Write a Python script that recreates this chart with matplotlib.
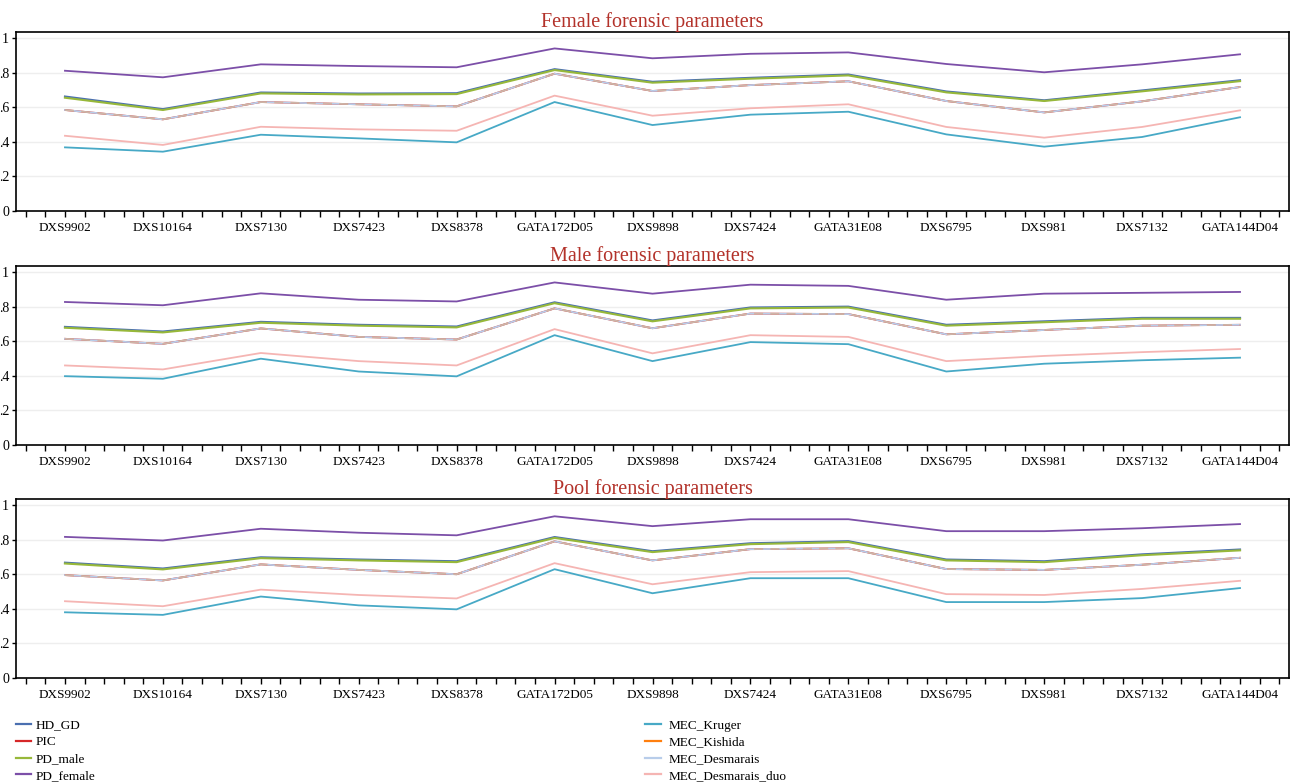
import matplotlib
matplotlib.use('Agg')
import matplotlib.pyplot as plt
import numpy as np

plt.rcParams['font.family'] = ['Liberation Serif', 'DejaVu Serif']

# 基因座名称
loci = ['DXS9902', 'DXS10164', 'DXS7130', 'DXS7423', 'DXS8378', 'GATA172D05',
        'DXS9898', 'DXS7424', 'GATA31E08', 'DXS6795', 'DXS981', 'DXS7132',
        'GATA144D04']

# 女性参数
female_hd_gd = [0.662, 0.589, 0.685, 0.679, 0.681, 0.820, 0.747, 0.770, 0.789, 0.691, 0.640, 0.697, 0.756]
female_pd_male = [0.655, 0.584, 0.680, 0.674, 0.676, 0.815, 0.742, 0.765, 0.784, 0.686, 0.636, 0.692, 0.751]
female_pd_female = [0.811, 0.773, 0.848, 0.838, 0.831, 0.940, 0.883, 0.909, 0.917, 0.850, 0.802, 0.848, 0.906]
female_pic = [0.584, 0.530, 0.630, 0.617, 0.605, 0.794, 0.694, 0.728, 0.750, 0.636, 0.570, 0.634, 0.717]
female_kruger = [0.368, 0.343, 0.441, 0.420, 0.397, 0.630, 0.497, 0.557, 0.574, 0.443, 0.372, 0.428, 0.542]
female_duo = [0.435, 0.382, 0.487, 0.472, 0.464, 0.667, 0.551, 0.594, 0.617, 0.486, 0.424, 0.486, 0.582]

# 男性参数
male_hd_gd = [0.683, 0.656, 0.712, 0.695, 0.685, 0.825, 0.720, 0.795, 0.800, 0.695, 0.715, 0.735, 0.735]
male_pd_male = [0.678, 0.651, 0.707, 0.690, 0.680, 0.820, 0.715, 0.790, 0.795, 0.690, 0.710, 0.730, 0.730]
male_pd_female = [0.827, 0.808, 0.877, 0.840, 0.830, 0.940, 0.875, 0.927, 0.920, 0.840, 0.875, 0.880, 0.885]
male_pic = [0.614, 0.585, 0.674, 0.625, 0.610, 0.790, 0.675, 0.760, 0.757, 0.640, 0.665, 0.690, 0.695]
male_kruger = [0.398, 0.383, 0.499, 0.425, 0.397, 0.635, 0.485, 0.595, 0.583, 0.425, 0.470, 0.490, 0.505]
male_duo = [0.460, 0.437, 0.532, 0.485, 0.460, 0.670, 0.530, 0.635, 0.625, 0.485, 0.515, 0.537, 0.555]

# 混合参数
pool_hd_gd = [0.667, 0.633, 0.698, 0.685, 0.675, 0.815, 0.733, 0.779, 0.791, 0.685, 0.675, 0.715, 0.743]
pool_pd_male = [0.662, 0.628, 0.693, 0.680, 0.670, 0.810, 0.728, 0.774, 0.786, 0.680, 0.670, 0.710, 0.738]
pool_pd_female = [0.816, 0.795, 0.863, 0.840, 0.825, 0.935, 0.878, 0.918, 0.918, 0.849, 0.849, 0.866, 0.890]
pool_pic = [0.595, 0.564, 0.657, 0.625, 0.600, 0.790, 0.680, 0.745, 0.750, 0.630, 0.625, 0.655, 0.695]
pool_kruger = [0.380, 0.365, 0.471, 0.420, 0.397, 0.629, 0.490, 0.577, 0.577, 0.439, 0.439, 0.462, 0.520]
pool_duo = [0.444, 0.415, 0.511, 0.480, 0.460, 0.664, 0.542, 0.612, 0.618, 0.485, 0.480, 0.515, 0.562]

panels = [
    ('Female forensic parameters', female_hd_gd, female_pd_male, female_pd_female, female_pic, female_kruger, female_duo),
    ('Male forensic parameters', male_hd_gd, male_pd_male, male_pd_female, male_pic, male_kruger, male_duo),
    ('Pool forensic parameters', pool_hd_gd, pool_pd_male, pool_pd_female, pool_pic, pool_kruger, pool_duo),
]

c_hd = '#4a6fb0'
c_pic = '#d62728'
c_pdm = '#97b83a'
c_pdf = '#7c4fa8'
c_kru = '#47a9c6'
c_kis = '#ff7f0e'
c_des = '#b8cdea'
c_duo = '#f5b5b3'

fig = plt.figure(figsize=(12.95, 7.82), dpi=100)

left = 16 / 1295
width = 1273 / 1295
tops = [32, 266, 499]
height = 179 / 782

x = np.arange(len(loci))
lw = 1.3

for (title, hd, pdm, pdf, pic, kru, duo), top in zip(panels, tops):
    ax = fig.add_axes([left, 1 - (top + 179) / 782, width, height])
    ax.plot(x, pic, color=c_pic, lw=lw)
    ax.plot(x, pic, color=c_des, lw=lw)
    ax.plot(x, pic, color=c_kis, lw=lw, alpha=0.3, dashes=(5, 4))
    ax.plot(x, duo, color=c_duo, lw=lw)
    ax.plot(x, kru, color=c_kru, lw=lw)
    ax.plot(x, hd, color=c_hd, lw=lw + 0.2)
    ax.plot(x, pdm, color=c_pdm, lw=lw + 0.2)
    ax.plot(x, pdf, color=c_pdf, lw=lw)

    ax.set_xlim(-0.5, 12.5)
    ax.set_ylim(0, 1.035)
    ax.set_xticks(x)
    ax.set_xticklabels(loci, fontsize=9.5)
    ax.set_xticks(np.arange(-0.4, 12.5, 0.2), minor=True)
    ax.set_yticks([0, 0.2, 0.4, 0.6, 0.8, 1.0])
    ax.set_yticklabels(['0', '.2', '.4', '.6', '.8', '1'], fontsize=10)
    ax.tick_params(axis='x', which='both', length=4, width=1, pad=4)
    ax.tick_params(axis='y', length=3, width=1, pad=2)
    ax.grid(axis='y', color='#eeeeee', lw=1)
    ax.set_axisbelow(True)
    for s in ax.spines.values():
        s.set_linewidth(1.2)
    ax.set_title(title, color='#b3322a', fontsize=14.5, pad=2)

# 图例
h = lambda c: plt.Line2D([], [], color=c, lw=1.6)
leg1 = fig.legend([h(c_hd), h(c_pic), h(c_pdm), h(c_pdf)],
                  ['HD_GD', 'PIC', 'PD_male', 'PD_female'],
                  loc='upper left', bbox_to_anchor=(0.008, 1 - 714 / 782),
                  frameon=False, fontsize=9.5, handlelength=1.2,
                  handletextpad=0.3, labelspacing=0.35, borderaxespad=0)
leg2 = fig.legend([h(c_kru), h(c_kis), h(c_des), h(c_duo)],
                  ['MEC_Kruger', 'MEC_Kishida', 'MEC_Desmarais', 'MEC_Desmarais_duo'],
                  loc='upper left', bbox_to_anchor=(0.494, 1 - 714 / 782),
                  frameon=False, fontsize=9.5, handlelength=1.2,
                  handletextpad=0.6, labelspacing=0.35, borderaxespad=0)

fig.savefig('out.png', dpi=100)
